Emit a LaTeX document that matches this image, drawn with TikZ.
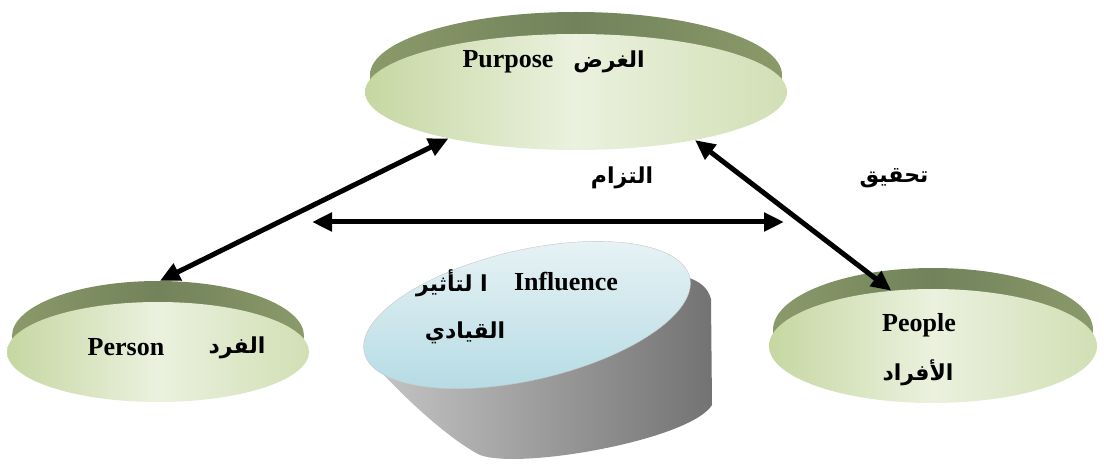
\documentclass[tikz,border=0pt]{standalone}
\usepackage{fontspec}
\setmainfont{Liberation Serif}
\newfontfamily\arabicfont[Script=Arabic]{DejaVu Sans}
\TeXXeTstate=1
\usetikzlibrary{shapes.geometric,arrows.meta}

\definecolor{rimdark}{HTML}{72825A}
\definecolor{rimlight}{HTML}{8A9A6A}
\definecolor{faceedge}{HTML}{C6D7A2}
\definecolor{facemid}{HTML}{EBF1DE}
\definecolor{lensedge}{HTML}{B3DAE3}
\definecolor{lenstop}{HTML}{EAF4F6}

\tikzset{
  rim/.style={ellipse, left color=rimlight, right color=rimlight, middle color=rimdark},
  face/.style={ellipse, left color=faceedge, right color=faceedge!80, middle color=facemid},
  entext/.style={font=\fontsize{26}{30}\selectfont\bfseries},
  artext/.style={font=\fontsize{22}{26}\selectfont\arabicfont\bfseries},
  link/.style={line width=5pt, {Triangle[length=20pt,width=18pt]}-{Triangle[length=20pt,width=18pt]}}
}

\begin{document}
\begin{tikzpicture}[x=1pt,y=1pt]
\useasboundingbox (0,0) rectangle (1104,464);

% discs
\node[rim, minimum width=412pt, minimum height=126pt] (purpose-rim) at (576,389) {};
\node[face, minimum width=422pt, minimum height=116pt] (purpose) at (576,372) {};
\node[rim, minimum width=292pt, minimum height=110pt] (person-rim) at (158,128) {};
\node[face, minimum width=302pt, minimum height=100pt] (person) at (158,112) {};
\node[rim, minimum width=320pt, minimum height=124pt] (people-rim) at (933,134) {};
\node[face, minimum width=328pt, minimum height=114pt] (people) at (933,118) {};

% influence cylinder
\shade[left color=black!22, right color=black!55]
  (366,109) .. controls (400,69) and (450,24) .. (480,9)
  .. controls (520,-6) and (690,24) .. (712,59)
  -- (711,165) .. controls (708,176) and (700,183) .. (686,187)
  -- (527,149) -- cycle;
\node[ellipse, draw=gray!45, top color=lenstop, bottom color=lensedge,
  minimum width=334pt, minimum height=130pt, rotate=13] (influence) at (527,149) {};

% texts
\node[entext] (purpose-en) at (508,402) {Purpose};
\node[artext] (purpose-ar) at (609,402) {\beginR الغرض\endR};
\node[entext] (person-en) at (126,117) {Person};
\node[artext] (person-ar) at (237,116) {\beginR الفرد\endR};
\node[entext] (people-en) at (919,139) {People};
\node[artext] (people-ar) at (918,91) {\beginR الأفراد\endR};
\node[entext] (influence-en) at (566,182) {Influence};
\node[artext] (influence-ar) at (452,181) {\beginR ا لتأثير\endR};
\node[artext] (influence-ar2) at (465,131) {\beginR القيادي\endR};
\node[artext] (commit) at (622,286) {\beginR التزام\endR};
\node[artext] (achieve) at (894,286) {\beginR تحقيق\endR};

% arrows
\coordinate (commit-l) at (312,242);
\coordinate (commit-r) at (784,242);
\draw[link] (person-rim.88) -- (purpose.200);
\draw[link] (purpose.338) -- (people.127);
\draw[link] (commit-l) -- (commit-r);
\end{tikzpicture}
\end{document}
